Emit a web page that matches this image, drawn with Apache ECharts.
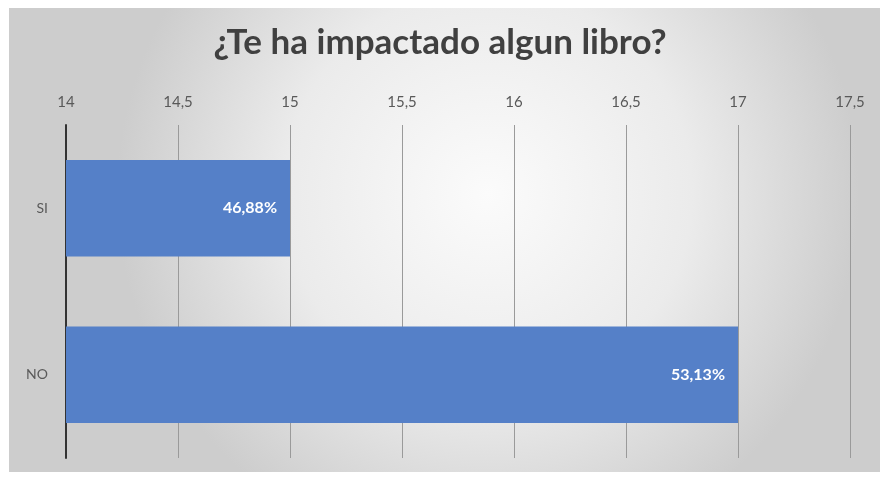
<!DOCTYPE html>
<html lang="es">

<head>
  <meta charset="UTF-8">
  <title>¿Te ha impactado algun libro?</title>
  <style>
    body,
    html {
      margin: 0;
      padding: 0;
      background: #fff;
    }

    #chart {
      width: 880px;
      height: 481px;
    }
  </style>
</head>

<body>
  <div id="chart"></div>
  <script src="https://cdn.jsdelivr.net/npm/echarts@6/dist/echarts.min.js"></script>
  <script>
    var categories = ['SI', 'NO'];
    var counts = [15, 17];
    var percentLabels = ['46,88%', '53,13%'];

    var myChart = echarts.init(document.getElementById('chart'));
    var fontFamily = 'Lato, "Open Sans", sans-serif';

    var option = {
      backgroundColor: '#fff',
      graphic: [{
        type: 'rect',
        z: -10,
        shape: { x: 9, y: 8, width: 871, height: 464 },
        style: {
          fill: new echarts.graphic.RadialGradient(0.55, 0.4, 0.8, [
            { offset: 0, color: '#fbfbfb' },
            { offset: 0.55, color: '#ebebeb' },
            { offset: 1, color: '#cdcdcd' }
          ])
        }
      }],
      title: {
        text: '¿Te ha impactado algun libro?',
        left: 'center',
        top: 20,
        textStyle: {
          color: '#404040',
          fontSize: 35,
          fontWeight: 'bold',
          fontFamily: fontFamily
        }
      },
      grid: {
        left: 66,
        right: 30,
        top: 125,
        bottom: 23
      },
      xAxis: {
        type: 'value',
        position: 'top',
        min: 14,
        max: 17.5,
        interval: 0.5,
        axisLine: { show: false },
        axisTick: { show: false },
        axisLabel: {
          color: '#595959',
          fontSize: 15,
          fontFamily: fontFamily,
          margin: 15,
          formatter: function (v) {
            return String(v).replace('.', ',');
          }
        },
        splitLine: {
          lineStyle: { color: '#9a9a9a', width: 1 }
        }
      },
      yAxis: {
        type: 'category',
        inverse: true,
        data: categories,
        axisLine: {
          lineStyle: { color: '#333', width: 2 }
        },
        axisTick: { show: false },
        axisLabel: {
          color: '#595959',
          fontSize: 14,
          fontFamily: fontFamily,
          margin: 18
        }
      },
      series: [{
        type: 'bar',
        data: counts,
        barCategoryGap: '42%',
        itemStyle: { color: '#5580c8' },
        label: {
          show: true,
          position: 'insideRight',
          distance: 13,
          color: '#fff',
          fontSize: 16,
          fontWeight: 'bold',
          fontFamily: fontFamily,
          formatter: function (p) {
            return percentLabels[p.dataIndex];
          }
        }
      }]
    };
    myChart.setOption(option);
  </script>
</body>

</html>
